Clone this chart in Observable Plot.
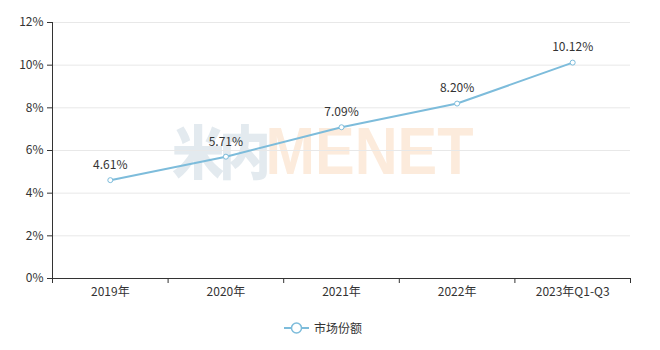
<!DOCTYPE html>
<html>
<head>
<meta charset="utf-8">
<script src="https://cdn.jsdelivr.net/npm/d3@7"></script>
<script src="https://cdn.jsdelivr.net/npm/@observablehq/plot@0.6"></script>
<style>
  html, body { margin: 0; padding: 0; background: #fff; }
  body { width: 660px; height: 350px; overflow: hidden; font-family: "Noto Sans CJK SC", "Noto Sans", sans-serif; }
  #wrap { position: relative; width: 660px; height: 305px; }
  #wm { position: absolute; left: 172px; top: 116px; z-index: 0; white-space: nowrap;
        font-family: "Liberation Sans", Arial, sans-serif; font-weight: bold; font-size: 66px; line-height: 66px;
        transform: scaleX(0.9); transform-origin: left top; }
  #wm .a { color: #e3eaef; font-family: "Noto Sans CJK SC", sans-serif; font-weight: 900; font-size: 58px; letter-spacing: -6px; }
  #wm .b { color: #fcebdc; }
  #chart { position: relative; z-index: 1; }
  #legend { display: flex; justify-content: center; align-items: center; height: 45px; font-size: 12px; color: #333; padding-right: 14px; }
  #legend svg { margin-right: 5px; }
</style>
</head>
<body>
<div id="wrap">
  <div id="wm"><span class="a">米内</span><span class="b">MENET</span></div>
  <div id="chart"></div>
</div>
<div id="legend"></div>
<script>
const categories = ["2019年", "2020年", "2021年", "2022年", "2023年Q1-Q3"];
const share = [4.61, 5.71, 7.09, 8.20, 10.12];
const yTicks = [0, 2, 4, 6, 8, 10, 12];
const seriesName = "市场份额";
const color = "#7dbcdb";

const data = categories.map((c, i) => ({i, c, v: share[i]}));
const idx = categories.map((_, i) => i);
const bounds = [-0.5, ...idx.map(i => i + 0.5)];

const plot = Plot.plot({
  width: 660,
  height: 305,
  marginLeft: 52,
  marginRight: 30,
  marginTop: 22,
  marginBottom: 27,
  style: {background: "transparent", fontFamily: "'Noto Sans CJK SC', sans-serif", fontSize: "12px", color: "#333"},
  x: {type: "linear", domain: [-0.5, categories.length - 0.5]},
  y: {domain: [0, 12]},
  marks: [
    Plot.gridY(yTicks.slice(1), {stroke: "#e8e8e8", strokeOpacity: 1}),
    Plot.axisY({ticks: yTicks, tickFormat: d => d + "%", tickSize: 5, tickPadding: 4, label: null, stroke: "#333", fill: "#333"}),
    Plot.axisX({ticks: bounds, tickFormat: () => "", tickSize: 5, label: null, stroke: "#333"}),
    Plot.axisX({ticks: idx, tickFormat: i => categories[i], tickSize: 0, tickPadding: 9, label: null, fill: "#333"}),
    Plot.ruleX([-0.5], {stroke: "#333"}),
    Plot.ruleY([0], {stroke: "#333"}),
    Plot.line(data, {x: "i", y: "v", stroke: color, strokeWidth: 2}),
    Plot.dot(data, {x: "i", y: "v", r: 2.5, stroke: color, strokeWidth: 1, fill: "white"}),
    Plot.text(data, {x: "i", y: "v", text: d => d.v.toFixed(2) + "%", dy: -15, fill: "#333", fontSize: 12})
  ]
});
document.getElementById("chart").appendChild(plot);

const leg = document.getElementById("legend");
leg.innerHTML = `<svg width="25" height="14"><line x1="0" x2="25" y1="7" y2="7" stroke="${color}" stroke-width="2"/><circle cx="12.5" cy="7" r="5" fill="white" stroke="${color}" stroke-width="1.5"/></svg><span>${seriesName}</span>`;
</script>
</body>
</html>
